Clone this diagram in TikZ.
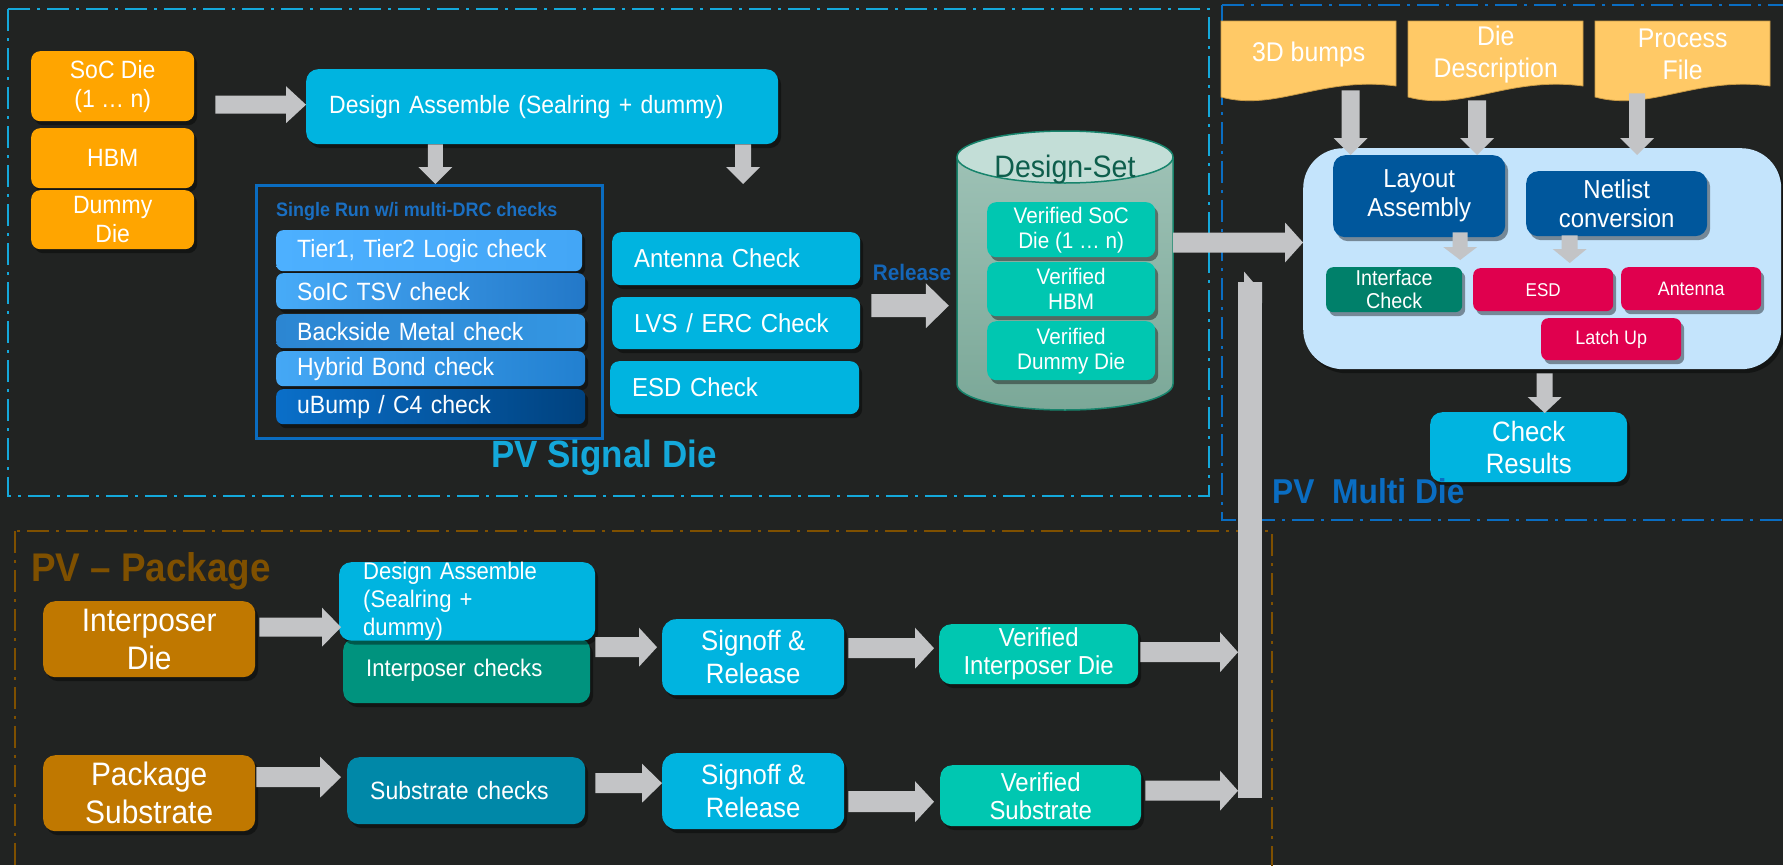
\documentclass[tikz,border=0pt]{standalone}
\usepackage{fontspec}
\setmainfont[FakeStretch=0.92]{Liberation Sans}
\usetikzlibrary{calc,shadows}

\definecolor{bgdark}{HTML}{212322}
\definecolor{sigframe}{HTML}{14A8DA}
\definecolor{multiframe}{HTML}{0A6DC2}
\definecolor{pkgframe}{HTML}{7F5000}
\definecolor{dieorange}{HTML}{FFA500}
\definecolor{pkgorange}{HTML}{C07800}
\definecolor{stepcyan}{HTML}{00B4E0}
\definecolor{verteal}{HTML}{00C7B1}
\definecolor{ichkteal}{HTML}{00937E}
\definecolor{subblue}{HTML}{0088A8}
\definecolor{ifcgreen}{HTML}{00806A}
\definecolor{rulecrimson}{HTML}{E0004E}
\definecolor{asmnavy}{HTML}{00579C}
\definecolor{panelblue}{HTML}{C4E4FC}
\definecolor{docyellow}{HTML}{FFC966}
\definecolor{docedge}{HTML}{C99A45}
\definecolor{arrowgray}{HTML}{C3C4C6}
\definecolor{srunblue}{HTML}{0A6CC0}
\definecolor{titleblue}{HTML}{1A6FC2}
\definecolor{relblue}{HTML}{1466B8}
\definecolor{cyltop}{HTML}{C3DED7}
\definecolor{cylhi}{HTML}{9DC1B5}
\definecolor{cyllo}{HTML}{7BA898}
\definecolor{cyledge}{HTML}{17846C}
\definecolor{cyltext}{HTML}{0E5E4C}
% check bar shades
\definecolor{barA}{HTML}{4DB0FF}
\definecolor{barAr}{HTML}{43A6F6}
\definecolor{barB}{HTML}{47ABF8}
\definecolor{barBr}{HTML}{2378C8}
\definecolor{barC}{HTML}{2C86D2}
\definecolor{barCr}{HTML}{3496E2}
\definecolor{barD}{HTML}{45A8F5}
\definecolor{barDr}{HTML}{2280D0}
\definecolor{barE}{HTML}{0A6FC9}
\definecolor{barEr}{HTML}{00427F}

\newcommand\setfs[2]{\fontsize{#1}{#2}\selectfont}
% block arrow pointing right: start, end, half shaft, half head, head length
\newcommand\rarrow[5]{%
  \fill[blockarrow] let \p1=#1, \p2=#2 in
    (\x1,\y1+#3) -- (\x2-#5,\y1+#3) -- (\x2-#5,\y1+#4) -- (\x2,\y1)
    -- (\x2-#5,\y1-#4) -- (\x2-#5,\y1-#3) -- (\x1,\y1-#3) -- cycle;}
% block arrow pointing down: start, end, half shaft, half head, head length
\newcommand\darrow[5]{%
  \fill[blockarrow] let \p1=#1, \p2=#2 in
    (\x1-#3,\y1) -- (\x1-#3,\y2+#5) -- (\x1-#4,\y2+#5) -- (\x1,\y2)
    -- (\x1+#4,\y2+#5) -- (\x1+#3,\y2+#5) -- (\x1+#3,\y1) -- cycle;}
% input document with a wavy lower edge
\newcommand\docshape[2]{%
  \filldraw[fill=docyellow, draw=docedge, line width=0.8pt]
    (#1,21) -- (#2,21) -- (#2,86) .. controls (#2-75,76) and (#1+55,112) .. (#1,97) -- cycle;}

\begin{document}
\begin{tikzpicture}[x=1pt, y=-1pt,
  base/.style={anchor=north west, inner sep=0pt, rounded corners=9pt, text=white, align=center,
    drop shadow={shadow xshift=3pt, shadow yshift=-4pt, opacity=0.4, fill=black}},
  sz/.style 2 args={minimum width=#1pt, minimum height=#2pt},
  leftpad/.style 2 args={align=left, text width=#1pt, inner xsep=#2pt},
  blockarrow/.style={fill=arrowgray},
  frame/.style={line width=2.5pt, dash pattern=on 22pt off 7pt on 3pt off 7pt},
  bar/.style={base, rounded corners=7pt, font=\setfs{25}{27}, leftpad={267}{21}},
  label/.style={inner sep=0pt, font=\bfseries},
]
\useasboundingbox (0,0) rectangle (1783,865);
\clip (0,0) rectangle (1783,865);
\fill[bgdark] (0,0) rectangle (1783,865);

% section frames
\draw[frame, sigframe] (8,9) rectangle (1209,496);
\draw[frame, multiframe] (1222,5) rectangle (1810,520);
\draw[frame, pkgframe] (15,531) rectangle (1272,890);

% ---------------- PV Signal Die ----------------
\node[base, fill=dieorange, sz={163}{70}, font=\setfs{25}{29}] (soc) at (31,51) {SoC Die\\(1 … n)};
\node[base, fill=dieorange, sz={163}{60}, font=\setfs{25}{29}] (hbm) at (31,128) {HBM};
\node[base, fill=dieorange, sz={163}{59}, font=\setfs{25}{29}] (dummy) at (31,190) {Dummy\\Die};

\node[base, fill=stepcyan, sz={472}{75}, rounded corners=12pt, font=\setfs{25}{28}, leftpad={426}{23}] (da) at (306,69)
  {Design Assemble (Sealring + dummy)};

\node[anchor=north west, draw=srunblue, line width=2.5pt, sz={346}{253}, inner sep=0pt] (srun) at (255,184) {};
\node[label, anchor=west, font=\bfseries\setfs{19.5}{20}, text=titleblue] (srtitle) at (276,211)
  {Single Run w/i multi-DRC checks};

\node[bar, sz={306}{41}, text width=264pt, left color=barA, right color=barAr] (t1) at (276,230) {Tier1, Tier2 Logic check};
\node[bar, sz={309}{36}, left color=barB, right color=barBr] (t2) at (276,273) {SoIC TSV check};
\node[bar, sz={309}{34}, left color=barC, right color=barCr] (t3) at (276,314) {Backside Metal check};
\node[bar, sz={309}{35}, left color=barD, right color=barDr] (t4) at (276,351) {Hybrid Bond check};
\node[bar, sz={309}{35}, left color=barE, right color=barEr] (t5) at (276,389) {uBump / C4 check};

\node[base, fill=stepcyan, sz={248}{53}, font=\setfs{26}{28}, leftpad={204}{22}] (ant) at (612,232) {Antenna Check};
\node[base, fill=stepcyan, sz={248}{52}, font=\setfs{26}{28}, leftpad={204}{22}] (lvs) at (612,297) {LVS / ERC Check};
\node[base, fill=stepcyan, sz={249}{53}, font=\setfs{26}{28}, leftpad={205}{22}] (esd) at (610,361) {ESD Check};

\node[label, font=\bfseries\setfs{22.5}{24}, text=relblue] (rel) at (912,272) {Release};

% design-set store
\fill[top color=cylhi, bottom color=cyllo] (957,157) -- (957,384)
  arc[start angle=180, end angle=360, x radius=108pt, y radius=26pt] -- (1173,157) -- cycle;
\draw[cyledge, line width=1.5pt] (957,157) -- (957,384)
  arc[start angle=180, end angle=360, x radius=108pt, y radius=26pt] -- (1173,157);
\filldraw[fill=cyltop, draw=cyledge, line width=1.5pt] (1065,157) ellipse [x radius=108pt, y radius=26pt];
\node[minimum width=216pt, minimum height=279pt, inner sep=0pt] (ds) at (1065,270.5) {};
\node[anchor=base, inner sep=0pt, font=\setfs{31}{32}, text=cyltext] (dstitle) at (1065,177) {Design-Set};

\node[base, fill=verteal, sz={168}{55}, font=\setfs{22.5}{25}] (vsoc) at (987,202) {Verified SoC\\Die (1 … n)};
\node[base, fill=verteal, sz={168}{54}, font=\setfs{22.5}{25}] (vhbm) at (987,262) {Verified\\HBM};
\node[base, fill=verteal, sz={168}{59}, font=\setfs{22.5}{25}] (vdum) at (987,321) {Verified\\Dummy Die};

\node[label, anchor=base west, font=\bfseries\setfs{38}{40}, text=sigframe] (sigtitle) at (491,467) {PV Signal Die};

% ---------------- PV Multi Die ----------------
\docshape{1221}{1396}
\docshape{1408}{1583}
\docshape{1595}{1770}
\node[anchor=north west, inner sep=0pt, sz={175}{66}, font=\setfs{27}{32}, text=white, align=center] (bumps) at (1221,21) {3D bumps};
\node[anchor=north west, inner sep=0pt, sz={175}{66}, font=\setfs{27}{32}, text=white, align=center] (desc) at (1408,21) {Die\\Description};
\node[anchor=north west, inner sep=0pt, sz={175}{66}, font=\setfs{27}{32}, text=white, align=center] (proc) at (1595,21) {Process\\File};

\node[base, fill=panelblue, sz={478}{221}, rounded corners=40pt] (panel) at (1303,148) {};

\node[base, fill=asmnavy, sz={172}{82}, rounded corners=12pt, font=\setfs{26}{29}] (layout) at (1333,155) {Layout\\Assembly};
\node[base, fill=asmnavy, sz={181}{65}, rounded corners=12pt, font=\setfs{26}{29}] (netlist) at (1526,171) {Netlist\\conversion};

\node[base, fill=ifcgreen, sz={136}{45}, rounded corners=7pt, font=\setfs{21.5}{23}] (ifc) at (1326,267) {Interface\\Check};
\node[base, fill=rulecrimson, sz={140}{43}, rounded corners=7pt, font=\setfs{18.5}{20}] (esdr) at (1473,268) {ESD};
\node[base, fill=rulecrimson, sz={140}{43}, rounded corners=7pt, font=\setfs{19.5}{20}] (antr) at (1621,267) {Antenna};
\node[base, fill=rulecrimson, sz={140}{42}, rounded corners=7pt, font=\setfs{19.5}{20}] (latch) at (1541,318) {Latch Up};

\node[base, fill=stepcyan, sz={197}{70}, rounded corners=12pt, font=\setfs{28}{32}] (results) at (1430,412) {Check\\Results};

\node[label, anchor=base west, font=\bfseries\setfs{34.5}{36}, text=multiframe] (multititle) at (1272,503) {PV\ \ Multi Die};

% ---------------- PV Package ----------------
\node[label, anchor=base west, font=\bfseries\setfs{40}{40}, text=pkgframe] (pkgtitle) at (31,581) {PV – Package};

\node[base, fill=pkgorange, sz={212}{76}, rounded corners=12pt, font=\setfs{32.5}{38}] (ipd) at (43,601) {Interposer\\Die};
\node[base, fill=pkgorange, sz={212}{76}, rounded corners=12pt, font=\setfs{32.5}{38}] (psub) at (43,755) {Package\\Substrate};

\node[base, fill=ichkteal, sz={247}{65}, rounded corners=12pt, font=\setfs{24}{28}, leftpad={201}{23}] (ichk) at (343,638) {Interposer checks};
\node[base, fill=stepcyan, sz={256}{76}, rounded corners=12pt, font=\setfs{24}{28}, leftpad={208}{24}] (pda) at (339,562)
  {Design Assemble\\(Sealring +\\dummy)};
\node[base, fill=subblue, sz={238}{67}, rounded corners=12pt, font=\setfs{25}{28}, leftpad={192}{23}] (sck) at (347,757) {Substrate checks};

\node[base, fill=stepcyan, sz={182}{76}, rounded corners=14pt, font=\setfs{28}{33}] (so1) at (662,619) {Signoff \&\\Release};
\node[base, fill=stepcyan, sz={182}{76}, rounded corners=14pt, font=\setfs{28}{33}] (so2) at (662,753) {Signoff \&\\Release};

\node[base, fill=verteal, sz={199}{60}, rounded corners=12pt, font=\setfs{26}{28}] (vint) at (939,624) {Verified\\Interposer Die};
\node[base, fill=verteal, sz={201}{61}, rounded corners=12pt, font=\setfs{26}{28}] (vsub) at (940,765) {Verified\\Substrate};

% ---------------- connectors ----------------
\rarrow{($(soc.east |- da.west)+(21,-2)$)}{(da.west)}{9pt}{18.5pt}{20pt}
\darrow{($(da.south -| srun.north)+(6,0)$)}{($(srun.north)+(6,0)$)}{7.5pt}{17pt}{17pt}
\darrow{($(da.south -| ant.north)+(7,0)$)}{($(ant.north |- srun.north)+(7,0)$)}{8pt}{17pt}{17pt}
\rarrow{($(lvs.east)+(11,-17.5)$)}{($(ds.west)+(-8,0)$)}{11.5pt}{22.5pt}{23pt}
\rarrow{($(ds.east)+(0,-28)$)}{(panel.west)}{10pt}{20pt}{18pt}

\darrow{($(bumps.south)+(42,3)$)}{($(bumps.south |- layout.north)+(42,0)$)}{9pt}{17pt}{17pt}
\darrow{($(desc.south)+(-18.5,13)$)}{($(desc.south |- layout.north)+(-18.5,0)$)}{9pt}{17pt}{17pt}
\darrow{($(proc.south)+(-45.5,6)$)}{($(proc.south |- layout.north)+(-45.5,0)$)}{8pt}{17pt}{17pt}
\darrow{($(layout.south)+(41,-5)$)}{($(layout.south |- ifc.north)+(41,-7)$)}{7.5pt}{17pt}{13pt}
\darrow{($(netlist.south)+(-47,-1)$)}{($(netlist.south |- esdr.north)+(-47,-5)$)}{8pt}{17pt}{14pt}
\darrow{($(results.north |- panel.south)+(16,4)$)}{($(results.north)+(16,1)$)}{8pt}{17pt}{16pt}

% collector bar feeding the multi-die flow
\coordinate (bustop) at (1250,282);
\coordinate (busbot) at (1250,798);
\fill[blockarrow] ($(bustop)+(-12,0)$) rectangle ($(busbot)+(12,0)$);
\rarrow{($(bustop)+(12,10.5)$)}{($(bustop)+(12,10.5)$ -| panel.west)}{10.5pt}{21pt}{18pt}

\rarrow{($(ipd.east)+(4,-12)$)}{($(ipd.east -| pda.west)+(2,-12)$)}{9.5pt}{19.5pt}{19pt}
\rarrow{($(psub.east)+(1,-16)$)}{($(psub.east -| sck.west)+(-6,-16)$)}{10pt}{20.5pt}{21pt}
\rarrow{($(ichk.east |- so1.west)+(5,-10)$)}{($(so1.west)+(-5,-10)$)}{10pt}{19.5pt}{18pt}
\rarrow{($(sck.east |- so2.west)+(10,-8)$)}{($(so2.west)+(0,-8)$)}{10pt}{19.5pt}{20pt}
\rarrow{($(so1.east)+(4,-9)$)}{($(so1.east -| vint.west)+(-5,-9)$)}{10pt}{20.5pt}{19pt}
\rarrow{($(so2.east)+(4,10.5)$)}{($(so2.east -| vsub.west)+(-6,10.5)$)}{10.5pt}{20.5pt}{19pt}
\rarrow{($(vint.east)+(2,-2)$)}{($(vint.east -| busbot)+(-12,-2)$)}{10pt}{20pt}{18pt}
\rarrow{($(vsub.east)+(4,-5)$)}{($(vsub.east -| busbot)+(-12,-5)$)}{10pt}{20pt}{18pt}
\end{tikzpicture}
\end{document}
